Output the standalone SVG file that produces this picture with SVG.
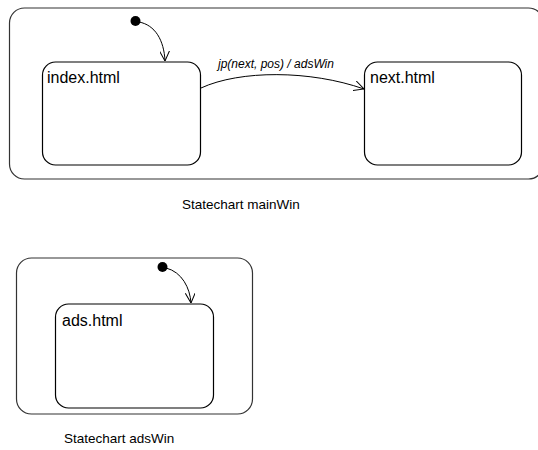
<svg xmlns="http://www.w3.org/2000/svg" width="538" height="450" viewBox="0 0 538 450">
<defs>
<marker id="open" viewBox="0 0 10 10" refX="10" refY="5" markerWidth="10" markerHeight="10" markerUnits="userSpaceOnUse" orient="auto">
<path d="M0,0 L10,5 L0,10" fill="none" stroke="#000" stroke-width="1"/>
</marker>
</defs>
<style>
.frame{fill:#fff;stroke:#333;stroke-width:1.2}
.state{fill:#fff;stroke:#000;stroke-width:1.2}
.name{font-family:"Liberation Sans",Arial,sans-serif;font-size:16px;fill:#000}
.cap{font-family:"Liberation Sans",Arial,sans-serif;font-size:13.5px;fill:#000}
.lbl{font-family:"Liberation Sans",Arial,sans-serif;font-size:12px;font-style:italic;fill:#000}
.edge{fill:none;stroke:#000;stroke-width:1}
</style>
<rect width="538" height="450" fill="#fff"/>
<g id="mainWin">
<rect class="frame" x="9.5" y="8" width="534" height="171" rx="15"/>
<text class="cap" x="182" y="209">Statechart mainWin</text>
</g>
<g id="index">
<rect class="state" x="42.5" y="62" width="158" height="103" rx="13"/>
<text class="name" x="47" y="83">index.html</text>
</g>
<g id="next">
<rect class="state" x="364.5" y="62" width="157" height="103" rx="13"/>
<text class="name" x="370" y="83">next.html</text>
</g>
<g id="init-main">
<circle cx="135.5" cy="21" r="5" fill="#000"/>
</g>
<g id="adsWin">
<rect class="frame" x="16.5" y="258" width="236" height="156" rx="15"/>
<text class="cap" x="64" y="443">Statechart adsWin</text>
</g>
<g id="ads">
<rect class="state" x="55.5" y="304" width="158" height="104" rx="13"/>
<text class="name" x="62" y="326">ads.html</text>
</g>
<g id="init-ads">
<circle cx="162.5" cy="267" r="5" fill="#000"/>
</g>
<g id="connectors">
<path class="edge" d="M139,22 C155,25 164,40 165,61" marker-end="url(#open)"/>
<path class="edge" d="M201,88 C240,70 310,70 364,89" marker-end="url(#open)"/>
<text class="lbl" x="218" y="68">jp(next, pos) / adsWin</text>
<path class="edge" d="M166,268 C182,272 190,288 191,303" marker-end="url(#open)"/>
</g>
</svg>
